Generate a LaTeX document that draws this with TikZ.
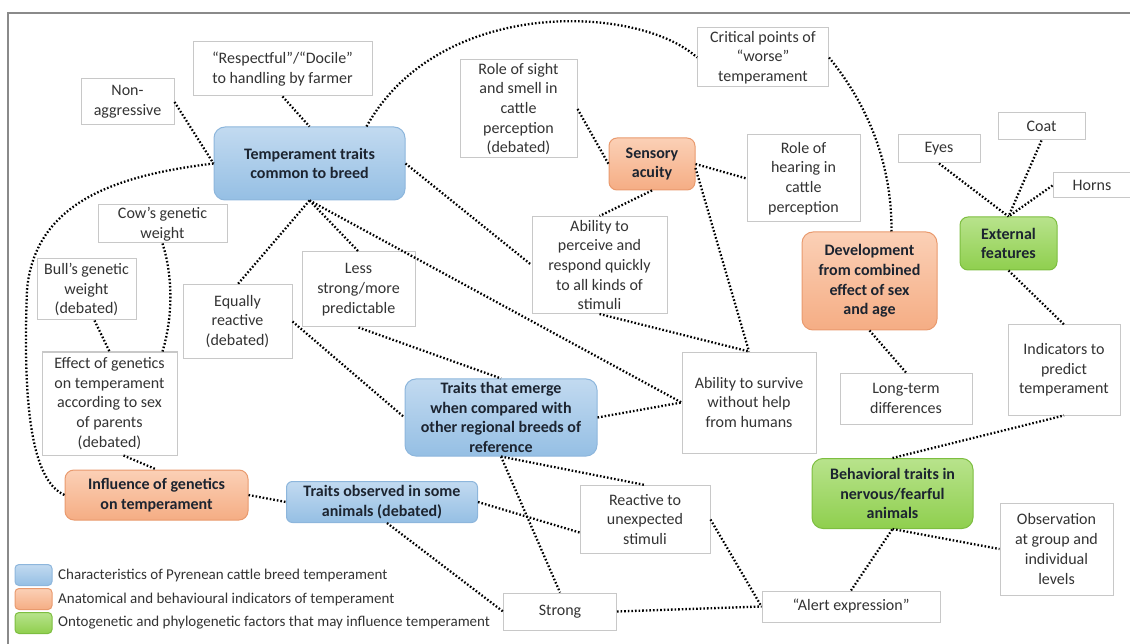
\documentclass[tikz,border=0pt]{standalone}
\usepackage{fontspec}
\setmainfont{Carlito}
\usetikzlibrary{calc}

\definecolor{boxgray}{HTML}{C8C8C8}
\definecolor{textgray}{HTML}{333333}
\definecolor{framegray}{HTML}{8A8A8A}
\definecolor{bluetop}{HTML}{C2DAF0}
\definecolor{bluebot}{HTML}{95BFE4}
\definecolor{bluedraw}{HTML}{8DB6DC}
\definecolor{orangetop}{HTML}{FBD0B6}
\definecolor{orangebot}{HTML}{F5AD84}
\definecolor{orangedraw}{HTML}{E99A6E}
\definecolor{greentop}{HTML}{B8E38C}
\definecolor{greenbot}{HTML}{8FCF4E}
\definecolor{greendraw}{HTML}{7DBE40}
\definecolor{darktext}{HTML}{1C2430}

\begin{document}
\begin{tikzpicture}[x=1pt, y=-1pt, font=\fontsize{16}{19.7}\selectfont]
    % Node styles
    \tikzstyle{box_style} = [rectangle, draw=boxgray, line width=1pt, fill=white, text=textgray, align=center, inner sep=2pt]
    \tikzstyle{blue_style} = [rectangle, rounded corners=11pt, draw=bluedraw, line width=1pt, top color=bluetop, bottom color=bluebot, text=darktext, align=center, font=\fontsize{16}{19.7}\selectfont\bfseries]
    \tikzstyle{orange_style} = [blue_style, draw=orangedraw, top color=orangetop, bottom color=orangebot]
    \tikzstyle{green_style} = [blue_style, draw=greendraw, top color=greentop, bottom color=greenbot]
    \tikzstyle{link_style} = [line width=2.3pt, dash pattern=on 1.6pt off 2pt, black]
    \tikzstyle{key_style} = [rectangle, rounded corners=4pt, line width=1pt, minimum width=37, minimum height=21]

    \useasboundingbox (0,0) rectangle (1130,644);
    \draw[framegray, line width=1.5pt] (8,644) -- (8,13) -- (1130,13);

    % Nodes
    \node[box_style, minimum width=179, minimum height=54] (1) at (282.5,69) {“Respectful”/“Docile”\\to handling by farmer};
    \node[box_style, minimum width=93, minimum height=46] (2) at (127.5,102) {Non-\\aggressive};
    \node[blue_style, minimum width=191, minimum height=73] (3) at (309.5,163.5) {Temperament traits\\common to breed};
    \node[box_style, minimum width=131, minimum height=59] (4) at (763,57.5) {Critical points of\\“worse”\\temperament};
    \node[box_style, minimum width=117, minimum height=98] (5) at (518.5,109) {Role of sight\\and smell in\\cattle\\perception\\(debated)};
    \node[orange_style, rounded corners=8pt, minimum width=86, minimum height=52] (6) at (652,164) {Sensory\\acuity};
    \node[box_style, minimum width=113, minimum height=87] (7) at (803.5,178.5) {Role of\\hearing in\\cattle\\perception};
    \node[box_style, minimum width=82, minimum height=28] (8) at (939,149) {Eyes};
    \node[box_style, minimum width=87, minimum height=27] (9) at (1041.5,126.5) {Coat};
    \node[box_style, minimum width=78, minimum height=25] (10) at (1092,185.5) {Horns};
    \node[green_style, rounded corners=8pt, minimum width=97, minimum height=53] (11) at (1008.5,243.5) {External\\features};
    \node[orange_style, minimum width=135, minimum height=98] (12) at (869.5,281) {Development\\from combined\\effect of sex\\and age};
    \node[box_style, minimum width=129, minimum height=38] (13) at (162.5,224) {Cow’s genetic\\weight};
    \node[box_style, minimum width=99, minimum height=61] (14) at (86.5,289.5) {Bull’s genetic\\weight\\(debated)};
    \node[box_style, minimum width=109, minimum height=73] (15) at (237.5,321.5) {Equally\\reactive\\(debated)};
    \node[box_style, minimum width=113, minimum height=75] (16) at (358.5,289.5) {Less\\strong/more\\predictable};
    \node[box_style, minimum width=135, minimum height=97] (17) at (599.5,265) {Ability to\\perceive and\\respond quickly\\to all kinds of\\stimuli};
    \node[box_style, minimum width=135, minimum height=103] (18) at (109.5,403.5) {Effect of genetics\\on temperament\\according to sex\\of parents\\(debated)};
    \node[blue_style, minimum width=192, minimum height=75] (19) at (501,417.5) {Traits that emerge\\when compared with\\other regional breeds of\\reference};
    \node[box_style, minimum width=134, minimum height=101] (20) at (749,402.5) {Ability to survive\\without help\\from humans};
    \node[box_style, minimum width=132, minimum height=51] (21) at (906,398.5) {Long-term\\differences};
    \node[box_style, minimum width=112, minimum height=90] (22) at (1064,370) {Indicators to\\predict\\temperament};
    \node[green_style, minimum width=161, minimum height=70] (23) at (892.5,493.5) {Behavioral traits in\\nervous/fearful\\animals};
    \node[box_style, minimum width=113, minimum height=92] (24) at (1056.5,549) {Observation\\at group and\\individual\\levels};
    \node[box_style, minimum width=178, minimum height=31] (25) at (851,606.5) {“Alert expression”};
    \node[box_style, minimum width=113, minimum height=37] (26) at (560,611.5) {Strong};
    \node[box_style, minimum width=130, minimum height=68] (27) at (645,519.5) {Reactive to\\unexpected\\stimuli};
    \node[blue_style, rounded corners=6pt, minimum width=191, minimum height=41] (28) at (382,502) {Traits observed in some\\animals (debated)};
    \node[orange_style, rounded corners=9pt, minimum width=183, minimum height=50] (29) at (156.5,495) {Influence of genetics\\on temperament};

    % Legend
    \node[key_style, draw=bluedraw, top color=bluetop, bottom color=bluebot] (k1) at (33.5,575) {};
    \node[key_style, draw=orangedraw, top color=orangetop, bottom color=orangebot] (k2) at (33.5,599) {};
    \node[key_style, draw=greendraw, top color=greentop, bottom color=greenbot] (k3) at (33.5,623) {};
    \node[anchor=west, inner sep=0pt, text=textgray, font=\fontsize{15}{18}\selectfont] (t1) at (58,575) {Characteristics of Pyrenean cattle breed temperament};
    \node[anchor=west, inner sep=0pt, text=textgray, font=\fontsize{15}{18}\selectfont] (t2) at (58,599) {Anatomical and behavioural indicators of temperament};
    \node[anchor=west, inner sep=0pt, text=textgray, font=\fontsize{15}{18}\selectfont] (t3) at (58,623) {Ontogenetic and phylogenetic factors that may influence temperament};

    % Links
    \draw[link_style] (1.south) -- (3.north);
    \draw[link_style] (2.east) -- (3.west);
    \draw[link_style] (3.west) .. controls (120,175) and (35,200) .. (27,290) .. controls (22,420) and (35,482) .. (29.west);
    \draw[link_style] ($(3.north)+(57,0)$) .. controls (440,-5) and (640,5) .. (4.west);
    \draw[link_style] (4.east) .. controls (872,110) and (892,170) .. ($(12.north)+(22,0)$);
    \draw[link_style] (5.east) -- (6.west);
    \draw[link_style] (6.east) -- (7.west);
    \draw[link_style] (6.south) -- (17.north);
    \draw[link_style] ($(6.east)+(0,4)$) -- (20.north);
    \draw[link_style] (3.east) -- (17.west);
    \draw[link_style] (3.south) -- (15.north);
    \draw[link_style] (3.south) -- (16.north);
    \draw[link_style] (3.south) -- (20.west);
    \draw[link_style] (17.south) -- (20.north);
    \draw[link_style] (16.south) -- (19.north);
    \draw[link_style] (15.east) -- (19.west);
    \draw[link_style] (19.east) -- (20.west);
    \draw[link_style] (19.south) -- (27.north);
    \draw[link_style] (19.south) -- (26.north);
    \draw[link_style] (28.east) -- ($(27.west)+(0,13)$);
    \draw[link_style] ($(28.south)+(5,0)$) -- (26.west);
    \draw[link_style] (29.east) -- (28.west);
    \draw[link_style] ($(18.south)+(14,0)$) -- (29.north);
    \draw[link_style] ($(14.south)+(8,0)$) -- (18.north);
    \draw[link_style] (13.south) .. controls (174,280) and (172,320) .. ($(18.north)+(53,0)$);
    \draw[link_style] (27.east) -- (25.west);
    \draw[link_style] (26.east) -- (25.west);
    \draw[link_style] (25.north) -- (23.south);
    \draw[link_style] (23.south) -- (24.west);
    \draw[link_style] (23.north) -- (22.south);
    \draw[link_style] (11.south) -- (22.north);
    \draw[link_style] (8.south) -- (11.north);
    \draw[link_style] (9.south) -- (11.north);
    \draw[link_style] (10.west) -- (11.north);
    \draw[link_style] (12.south) -- (21.north);
\end{tikzpicture}
\end{document}
